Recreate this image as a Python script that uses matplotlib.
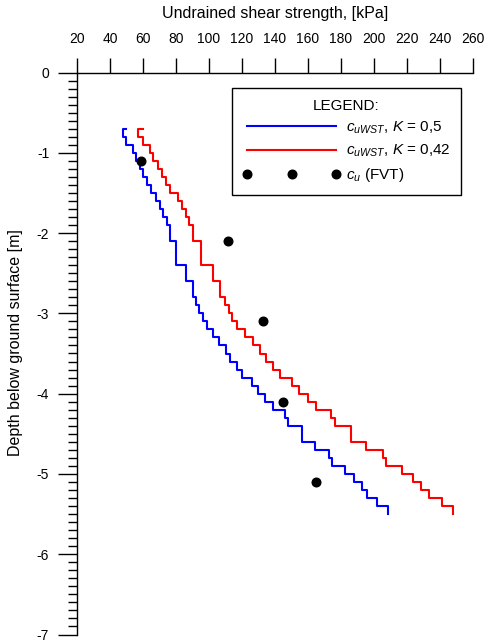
import numpy as np
import matplotlib
matplotlib.use('Agg')
import matplotlib.pyplot as plt
from matplotlib.lines import Line2D
from matplotlib.ticker import MultipleLocator, FormatStrFormatter

# Step profiles (depth in m, shear strength in kPa)
depth_steps = [0.7, 0.7, 0.8, 0.9, 1.0, 1.1, 1.2, 1.3, 1.4, 1.5, 1.6, 1.7, 1.8, 1.9,
               2.1, 2.4, 2.6, 2.8, 2.9, 3.0, 3.1, 3.2, 3.3, 3.4, 3.5, 3.6, 3.7, 3.8,
               3.9, 4.0, 4.1, 4.2, 4.3, 4.4, 4.6, 4.7, 4.8, 4.9, 5.0, 5.1, 5.2, 5.3,
               5.4, 5.5]

cu_k050 = [49.7, 48.1, 49.7, 53.7, 55.8, 58.2, 60.2, 62.2, 64.6, 67.9, 70.3, 72.3, 74.3, 76.4,
           80.2, 86.1, 90.0, 92.1, 94.1, 96.2, 98.6, 102.2, 106.2, 110.3, 112.7, 116.8, 120.0, 125.9,
           129.9, 133.9, 138.6, 146.1, 148.1, 156.2, 164.2, 172.7, 174.4, 182.4, 187.9, 192.5, 196.0, 202.0,
           208.7, 208.7]

cu_k042 = [60.2, 57.2, 60.2, 64.2, 66.2, 68.9, 71.3, 73.9, 76.4, 81.4, 83.4, 86.1, 88.1, 90.5,
           95.0, 102.2, 106.9, 109.7, 111.9, 113.8, 116.8, 121.6, 126.5, 130.9, 134.3, 138.8, 143.0, 150.0,
           154.7, 160.0, 164.8, 173.7, 176.4, 185.8, 195.2, 205.3, 207.3, 216.8, 223.4, 228.3, 233.5, 241.0,
           248.1, 248.1]

# Field vane tests
fvt_depth = [1.1, 2.1, 3.1, 4.1, 5.1]
fvt_cu = [58.6, 111.7, 132.5, 145.0, 164.7]

x_ticks = list(range(20, 261, 20))

# Font setup (Arial-like)
plt.rcParams['font.family'] = ['Liberation Sans', 'DejaVu Sans']
plt.rcParams['font.size'] = 10
plt.rcParams['axes.unicode_minus'] = False
plt.rcParams['mathtext.fontset'] = 'custom'
plt.rcParams['mathtext.rm'] = 'Liberation Sans'
plt.rcParams['mathtext.it'] = 'Liberation Sans:italic'


def main():
    fig = plt.figure(figsize=(4.88, 6.43), dpi=100)
    ax = fig.add_axes([77 / 488, 1 - 634.5 / 643, 396 / 488, 562 / 643])

    ax.plot(cu_k050, np.negative(depth_steps), color='#0000ff', lw=1.5, drawstyle='steps-pre')
    ax.plot(cu_k042, np.negative(depth_steps), color='#ff0000', lw=1.5, drawstyle='steps-pre')
    ax.plot(fvt_cu, np.negative(fvt_depth), 'o', color='black', ms=6.2, ls='none')

    ax.set_xlim(20, 260)
    ax.set_ylim(-7, 0)
    ax.set_xticks(x_ticks)
    ax.yaxis.set_major_locator(MultipleLocator(1))
    ax.yaxis.set_minor_locator(MultipleLocator(0.1))
    ax.yaxis.set_major_formatter(FormatStrFormatter('%d'))

    # only top and left axes
    ax.spines['bottom'].set_visible(False)
    ax.spines['right'].set_visible(False)
    for s in ('top', 'left'):
        ax.spines[s].set_linewidth(1.0)

    ax.xaxis.set_ticks_position('top')
    ax.xaxis.set_label_position('top')
    ax.tick_params(axis='x', direction='out', length=11, width=1.0, pad=8, labelsize=10)
    ax.tick_params(axis='y', which='major', direction='out', length=14, width=1.0, pad=6, labelsize=10)
    ax.tick_params(axis='y', which='minor', direction='out', length=6.5, width=1.0)

    ax.set_xlabel('Undrained shear strength, [kPa]', fontsize=11.5, labelpad=10)
    ax.set_ylabel('Depth below ground surface [m]', fontsize=11.5, labelpad=10)
    ax.yaxis.label.set_y(0.52)

    handles = [
        Line2D([], [], color='#0000ff', lw=1.5),
        Line2D([], [], color='#ff0000', lw=1.5),
        Line2D([], [], color='black', marker='o', ms=6.2, ls='none'),
    ]
    labels = [r'$c_{uWST}$, $K$ = 0,5', r'$c_{uWST}$, $K$ = 0,42', r'$c_u$ (FVT)']
    leg = ax.legend(handles, labels, title='LEGEND:', loc='upper right',
                    bbox_to_anchor=(0.97, 0.972), borderaxespad=0, numpoints=3,
                    handlelength=6.4, handletextpad=0.35, labelspacing=0.45,
                    borderpad=0.7, fancybox=False, framealpha=1, edgecolor='black',
                    fontsize=11, title_fontsize=11)
    leg.get_frame().set_linewidth(1.0)

    fig.savefig('out.png', dpi=100)


if __name__ == "__main__":
    main()
